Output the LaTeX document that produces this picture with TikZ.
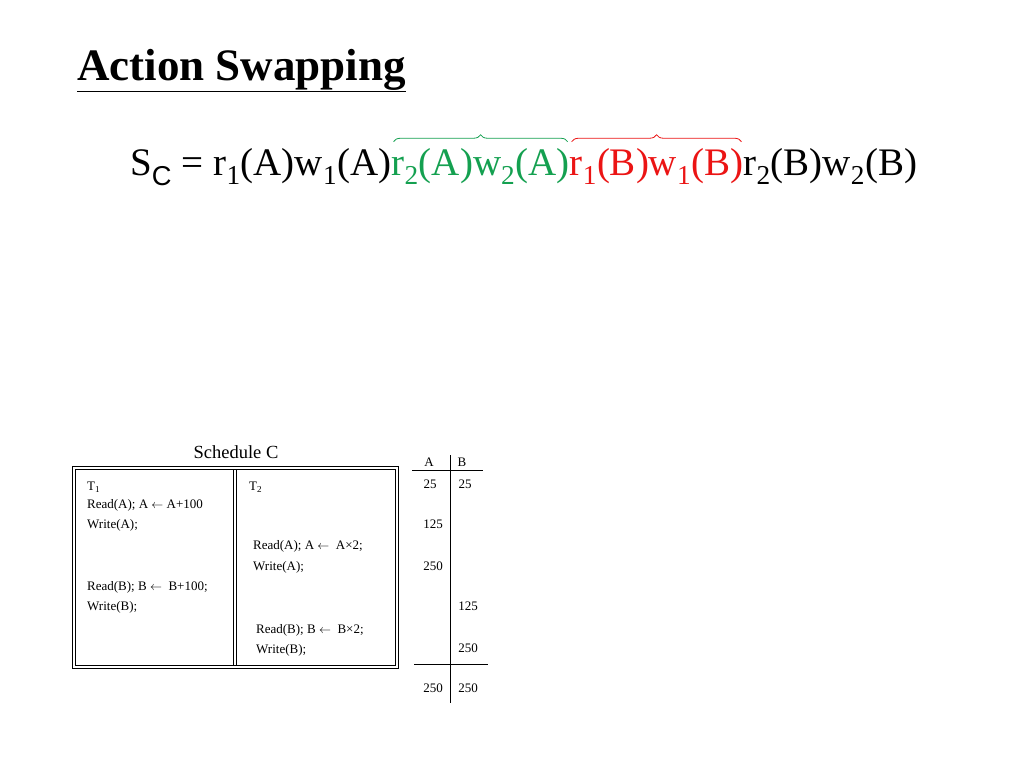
\documentclass[tikz,border=0pt]{standalone}
\usepackage{fontspec}
\setmainfont{Liberation Serif}
\newfontfamily\sansf{Liberation Sans}
\usetikzlibrary{decorations.pathreplacing}
\definecolor{gr}{RGB}{20,160,80}
\definecolor{rd}{RGB}{235,20,20}
\newcommand{\lar}{$\leftarrow$}
\begin{document}
\begin{tikzpicture}[x=1pt,y=-1pt,
  big/.style={inner sep=0,font=\fontsize{39}{44}\selectfont,anchor=base west},
  sm/.style={inner sep=0,font=\fontsize{13}{15}\selectfont},
  smw/.style={sm,anchor=west},
  brc/.style={decorate,decoration={brace,amplitude=7pt},line width=0.8pt}]
\useasboundingbox (0,0) rectangle (1024,768);
\node[inner sep=0,anchor=base west,font=\fontsize{45}{50}\selectfont\bfseries] (title) at (77,80) {\underline{Action Swapping}};
\node[big] (p1) at (130,175) {S\textsubscript{\sansf C} = r\textsubscript{1}(A)w\textsubscript{1}(A)};
\node[big,text=gr] (p2) at (p1.base east) {r\textsubscript{2}(A)w\textsubscript{2}(A)};
\node[big,text=rd] (p3) at (p2.base east) {r\textsubscript{1}(B)w\textsubscript{1}(B)};
\node[big] (p4) at (p3.base east) {r\textsubscript{2}(B)w\textsubscript{2}(B)};
\draw[brc,gr] ([xshift=2pt,yshift=6pt]p2.north west) -- ([xshift=-2pt,yshift=6pt]p2.north east);
\draw[brc,rd] ([xshift=2pt,yshift=6pt]p3.north west) -- ([xshift=-2pt,yshift=6pt]p3.north east);
% schedule
\node[inner sep=0,font=\fontsize{18.5}{20}\selectfont] (sch) at (236,452) {Schedule C};
\draw (72,466) rectangle (398,668);
\draw (75,469) rectangle (395,665);
\draw (233,469) -- (233,665);
\draw (236,469) -- (236,665);
\node[smw] (t1) at (87,487) {T\textsubscript{1}};
\node[smw] (t2) at (249,487) {T\textsubscript{2}};
\node[smw] (a1) at (87,505) {Read(A); A \lar\ A+100};
\node[smw] (a2) at (87,525) {Write(A);};
\node[smw] (a3) at (253,546) {Read(A); A \lar\ \ A×2;};
\node[smw] (a4) at (253,567) {Write(A);};
\node[smw] (a5) at (87,587) {Read(B); B \lar\ \ B+100;};
\node[smw] (a6) at (87,607) {Write(B);};
\node[smw] (a7) at (256,630) {Read(B); B \lar\ \ B×2;};
\node[smw] (a8) at (256,650) {Write(B);};
% values
\node[sm] (ha) at (429,462) {A};
\node[sm] (hb) at (462,462) {B};
\draw (412,470) -- (483,470);
\draw (450,455) -- (450,703);
\draw (414,664) -- (488,664);
\node[sm] (v1) at (430,484) {25};
\node[sm] (v2) at (465,484) {25};
\node[sm] (v3) at (433,524) {125};
\node[sm] (v4) at (433,566) {250};
\node[sm] (v5) at (468,606) {125};
\node[sm] (v6) at (468,648) {250};
\node[sm] (v7) at (433,688) {250};
\node[sm] (v8) at (468,688) {250};
\end{tikzpicture}
\end{document}
